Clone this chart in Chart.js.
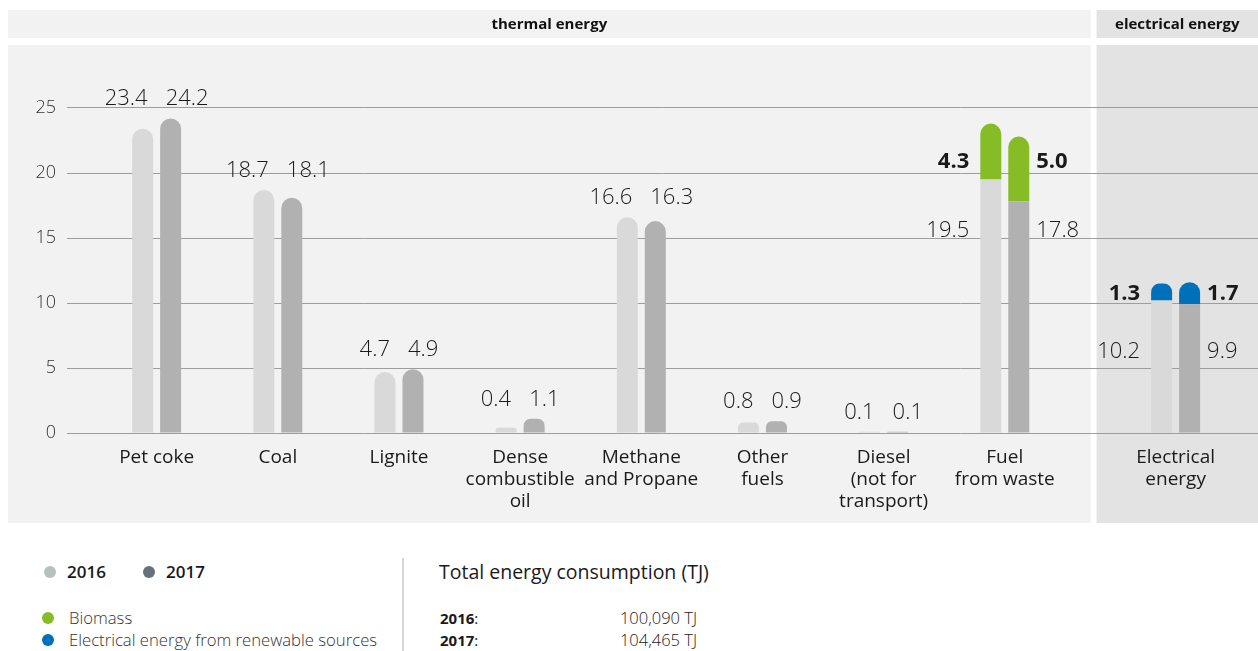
<!DOCTYPE html>
<html>
<head>
<meta charset="utf-8">
<title>Energy consumption</title>
<script src="https://cdn.jsdelivr.net/npm/chart.js@4.4.1/dist/chart.umd.min.js"></script>
<style>
    body { margin: 0; background: #fff; font-family: 'Open Sans', sans-serif; color: #1a1a1a; }
    #wrap { position: relative; width: 1258px; height: 651px; overflow: hidden; }
    #chart { position: absolute; left: 0; top: 0; }
    .dot { position: absolute; width: 12px; height: 12px; border-radius: 50%; }
    .txt { position: absolute; line-height: 20px; height: 20px; white-space: nowrap; }
    .year { font-size: 17px; font-weight: 600; }
    .leg { font-size: 16.7px; font-weight: 300; color: #333; }
    .sep { position: absolute; left: 402px; top: 558px; width: 2px; height: 93px; background: #d6d6d6; }
    .title { font-size: 19.5px; }
    .lbl { font-size: 15px; font-weight: 700; }
    .lbl span { font-weight: 400; }
    .val { font-size: 16.5px; font-weight: 300; text-align: right; width: 140px; }
</style>
</head>
<body>
<div id="wrap">
    <canvas id="chart" width="1258" height="530"></canvas>

    <div class="dot" style="left:44px; top:566px; background:#b5c1ba;"></div>
    <div class="txt year" style="left:67px; top:562px;">2016</div>
    <div class="dot" style="left:143px; top:566px; background:#66717b;"></div>
    <div class="txt year" style="left:166px; top:562px;">2017</div>

    <div class="dot" style="left:42px; top:612px; background:#86bc25;"></div>
    <div class="txt leg" style="left:69px; top:608px;">Biomass</div>
    <div class="dot" style="left:42px; top:634px; background:#0070ba;"></div>
    <div class="txt leg" style="left:69px; top:630px;">Electrical energy from renewable sources</div>

    <div class="sep"></div>

    <div class="txt title" style="left:439px; top:562px;">Total energy consumption (TJ)</div>
    <div class="txt lbl" style="left:440px; top:608px;">2016<span>:</span></div>
    <div class="txt val" style="left:557px; top:608px;">100,090 TJ</div>
    <div class="txt lbl" style="left:440px; top:630px;">2017<span>:</span></div>
    <div class="txt val" style="left:557px; top:630px;">104,465 TJ</div>
</div>

<script>
// categorie e valori (TJ x 1000)
const categories = [
    ['Pet coke'], ['Coal'], ['Lignite'], ['Dense', 'combustible', 'oil'],
    ['Methane', 'and Propane'], ['Other', 'fuels'], ['Diesel', '(not for', 'transport)'],
    ['Fuel', 'from waste'], ['Electrical', 'energy']
];
const positions = [0, 1, 2, 3, 4, 5, 6, 7, 8.41];
const values2016 = [23.4, 18.7, 4.7, 0.4, 16.6, 0.8, 0.1, 19.5, 10.2];
const values2017 = [24.2, 18.1, 4.9, 1.1, 16.3, 0.9, 0.1, 17.8, 9.9];
const renewable2016 = [null, null, null, null, null, null, null, 4.3, 1.3];
const renewable2017 = [null, null, null, null, null, null, null, 5.0, 1.7];
const renewableColors = [null, null, null, null, null, null, null, '#86bc25', '#0070ba'];
const yTicks = [0, 5, 10, 15, 20, 25];
const sectionTitles = ['thermal energy', 'electrical energy'];

const FONT = "'Open Sans', sans-serif";
const toPoints = arr => arr.map((v, i) => ({ x: positions[i], y: v }));
const hasTop = i => renewable2016[i] != null;
const fmt = v => v.toFixed(1);

// sfondi dei pannelli e intestazioni
const panels = {
    id: 'panels',
    beforeDraw(chart) {
        const { ctx, scales: { x } } = chart;
        const p7 = x.getPixelForValue(positions[7]), p8 = x.getPixelForValue(positions[8]);
        const split = p7 + (p8 - p7) * 0.52;
        const right = chart.width;
        ctx.save();
        ctx.fillStyle = '#f2f2f2';
        ctx.fillRect(8, 10, split - 3 - 8, 28);
        ctx.fillRect(8, 45, split - 3 - 8, 478);
        ctx.fillStyle = '#e3e3e3';
        ctx.fillRect(split + 3, 10, right - split - 3, 28);
        ctx.fillRect(split + 3, 45, right - split - 3, 478);
        ctx.fillStyle = '#111';
        ctx.font = `700 15px ${FONT}`;
        ctx.textAlign = 'center';
        ctx.textBaseline = 'middle';
        ctx.fillText(sectionTitles[0], (8 + split - 3) / 2, 25);
        ctx.fillText(sectionTitles[1], (split + 3 + right) / 2, 25);
        ctx.restore();
    }
};

// etichette dei valori
const valueLabels = {
    id: 'valueLabels',
    afterDatasetsDraw(chart) {
        const ctx = chart.ctx;
        const m16 = chart.getDatasetMeta(0), t16 = chart.getDatasetMeta(1);
        const m17 = chart.getDatasetMeta(2), t17 = chart.getDatasetMeta(3);
        ctx.save();
        ctx.fillStyle = '#1a1a1a';
        categories.forEach((c, i) => {
            const b16 = m16.data[i], b17 = m17.data[i];
            const left16 = b16.x - b16.width / 2;
            const right17 = b17.x + b17.width / 2;
            if (hasTop(i)) {
                const a = t16.data[i], b = t17.data[i];
                const yTop = ((a.y + a.base) / 2 + (b.y + b.base) / 2) / 2 + 1;
                ctx.textBaseline = 'middle';
                ctx.font = `700 22px ${FONT}`;
                ctx.textAlign = 'right';
                ctx.fillText(fmt(renewable2016[i]), left16 - 11, yTop);
                ctx.textAlign = 'left';
                ctx.fillText(fmt(renewable2017[i]), right17 + 7, yTop);
                const yBase = Math.min(b16.y, b17.y) + 51;
                ctx.font = `300 22px ${FONT}`;
                ctx.textAlign = 'right';
                ctx.fillText(fmt(values2016[i]), left16 - 11, yBase);
                ctx.textAlign = 'left';
                ctx.fillText(fmt(values2017[i]), right17 + 7, yBase);
            } else {
                const y = Math.min(b16.y, b17.y) - 13;
                const cx = (b16.x + b17.x) / 2;
                ctx.textBaseline = 'alphabetic';
                ctx.font = `300 22px ${FONT}`;
                ctx.textAlign = 'right';
                ctx.fillText(fmt(values2016[i]), cx - 9, y);
                ctx.textAlign = 'left';
                ctx.fillText(fmt(values2017[i]), cx + 9, y);
            }
        });
        ctx.restore();
    }
};

const baseRadius = c => hasTop(c.dataIndex) ? 0 : 11;

new Chart(document.getElementById('chart'), {
    type: 'bar',
    data: {
        datasets: [
            { label: '2016', data: toPoints(values2016), stack: 's16', backgroundColor: '#d9d9d9', borderRadius: baseRadius },
            { label: '2016 rinnovabili', data: toPoints(renewable2016), stack: 's16', backgroundColor: c => renewableColors[c.dataIndex], borderRadius: 11 },
            { label: '2017', data: toPoints(values2017), stack: 's17', backgroundColor: '#b1b1b1', borderRadius: baseRadius },
            { label: '2017 rinnovabili', data: toPoints(renewable2017), stack: 's17', backgroundColor: c => renewableColors[c.dataIndex], borderRadius: 11 }
        ]
    },
    options: {
        responsive: false,
        animation: false,
        devicePixelRatio: 1,
        layout: { padding: { top: 43, left: 0, right: 0, bottom: 0 } },
        datasets: { bar: { categoryPercentage: 0.462, barPercentage: 0.75, borderSkipped: 'start' } },
        plugins: { legend: { display: false }, tooltip: { enabled: false } },
        scales: {
            x: {
                type: 'linear',
                stacked: true,
                offset: false,
                min: -0.74,
                max: 9.09,
                grid: { display: false },
                border: { display: false },
                afterBuildTicks: scale => { scale.ticks = positions.map(v => ({ value: v })); },
                afterFit: scale => { scale.height = 97; },
                ticks: {
                    autoSkip: false,
                    maxRotation: 0,
                    padding: 6,
                    color: '#1a1a1a',
                    font: { family: FONT, size: 19, lineHeight: 1.14 },
                    callback: (value, index) => categories[index]
                }
            },
            y: {
                stacked: true,
                min: 0,
                max: 30,
                grid: { color: '#9d9d9d', drawTicks: false },
                border: { display: false },
                afterBuildTicks: scale => { scale.ticks = yTicks.map(v => ({ value: v })); },
                afterFit: scale => { scale.width = 67; },
                ticks: {
                    padding: 11,
                    color: '#333',
                    font: { family: FONT, size: 18, weight: 300 }
                }
            }
        }
    },
    plugins: [panels, valueLabels]
});
</script>
</body>
</html>
